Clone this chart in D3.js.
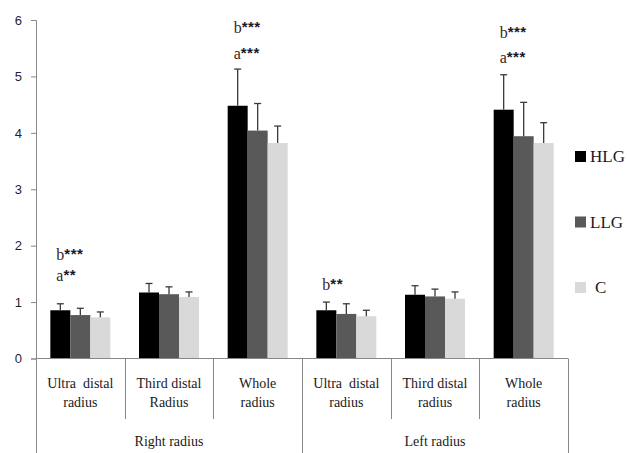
<!DOCTYPE html>
<html><head><meta charset="utf-8">
<script src="https://cdn.jsdelivr.net/npm/d3@7"></script>
<style>body{margin:0;background:#fff}svg{display:block}</style>
</head><body>
<svg id="c" width="627" height="453"></svg>
<script>
const categories = ["R-ultra","R-third","R-whole","L-ultra","L-third","L-whole"];
const categoryLabels = [["Ultra  distal","radius"],["Third distal","Radius"],["Whole","radius"],["Ultra  distal","radius"],["Third distal","radius"],["Whole","radius"]];
const groups = ["Right radius","Left radius"];
const series = ["HLG","LLG","C"];
const HLG = [0.855,1.17,4.48,0.855,1.13,4.41];
const LLG = [0.77,1.14,4.04,0.79,1.10,3.94];
const C   = [0.73,1.09,3.82,0.75,1.06,3.82];
const HLG_err = [0.115,0.16,0.65,0.145,0.16,0.62];
const LLG_err = [0.12,0.13,0.48,0.18,0.13,0.60];
const C_err   = [0.095,0.09,0.30,0.105,0.12,0.36];
const yTicks = [0,1,2,3,4,5,6];
// significance annotations: category index, text lines (bottom to top), value levels
const annotCat = [0,2,3,5];
const annotLetters = [["a","b"],["a","b"],["b"],["a","b"]];
const annotStars = [["**","***"],["***","***"],["**"],["***","***"]];
const annotLevels = [[1.37,1.75],[5.31,5.77],[1.21],[5.24,5.68]];

(function(){
const SERIF = "'Liberation Serif', 'Times New Roman', serif";
const SANS = "'Liberation Sans', Arial, sans-serif";
const colors = {HLG:"#000000",LLG:"#595959",C:"#d9d9d9"};
const vals = {HLG, LLG, C};
const errs = {HLG:HLG_err, LLG:LLG_err, C:C_err};

const svg = d3.select("#c");
const mLeft = 36, mRight = 568, mTop = 20, mBottom = 358.5;
const y = d3.scaleLinear().domain([0,6]).range([mBottom, mTop]);
const x0 = d3.scaleBand().domain(categories).range([mLeft,mRight]).padding(0);
const x1 = d3.scaleBand().domain(series).range([0,x0.bandwidth()]).paddingInner(0).paddingOuter(0.717);
const xg = d3.scaleBand().domain(groups).range([mLeft,mRight]).padding(0);
const axisColor = "#878787";

// y axis
const yAxis = svg.append("g").attr("transform",`translate(${mLeft},0)`)
  .call(d3.axisLeft(y).tickValues(yTicks).tickSize(5).tickPadding(9).tickFormat(d3.format("d")));
yAxis.select(".domain").attr("stroke",axisColor);
yAxis.selectAll(".tick line").attr("stroke",axisColor);
yAxis.selectAll("text").style("font-family",SANS).attr("font-size",13).attr("fill","#1f1f2f");

// bars
const cg = svg.append("g").selectAll("g").data(categories).join("g")
  .attr("transform",d=>`translate(${x0(d)},0)`);
series.forEach(s=>{
  cg.append("rect")
    .attr("x",x1(s)).attr("width",x1.bandwidth())
    .attr("y",(d,i)=>y(vals[s][i])).attr("height",(d,i)=>y(0)-y(vals[s][i]))
    .attr("fill",colors[s]);
});
// error bars
series.forEach(s=>{
  const cx = x1(s)+x1.bandwidth()/2;
  cg.append("line").attr("x1",cx).attr("x2",cx)
    .attr("y1",(d,i)=>y(vals[s][i])).attr("y2",(d,i)=>y(vals[s][i]+errs[s][i]))
    .attr("stroke","#3a3a3a").attr("stroke-width",1.3);
  cg.append("line").attr("x1",cx-3.5).attr("x2",cx+3.5)
    .attr("y1",(d,i)=>y(vals[s][i]+errs[s][i])).attr("y2",(d,i)=>y(vals[s][i]+errs[s][i]))
    .attr("stroke","#3a3a3a").attr("stroke-width",1.3);
});

// x axis line and separators
svg.append("line").attr("x1",mLeft).attr("x2",mRight).attr("y1",mBottom).attr("y2",mBottom).attr("stroke",axisColor);
categories.forEach((c,i)=>{
  const xx = Math.round(x0(c))+0.5;
  if(i%3!==0) svg.append("line").attr("x1",xx).attr("x2",xx).attr("y1",mBottom).attr("y2",419).attr("stroke",axisColor);
});
groups.forEach(g=>{
  [xg(g), xg(g)+xg.bandwidth()].forEach(v=>{
    const xx = Math.round(v)+0.5;
    svg.append("line").attr("x1",xx).attr("x2",xx).attr("y1",mBottom).attr("y2",453).attr("stroke",axisColor);
  });
});

// category labels
categories.forEach((c,i)=>{
  const t = svg.append("text").attr("x",x0(c)+x0.bandwidth()/2).attr("y",388)
    .attr("text-anchor","middle").style("font-family",SERIF)
    .attr("font-size",14).attr("fill","#1a1a1a").style("white-space","pre");
  categoryLabels[i].forEach((l,j)=>t.append("tspan").attr("x",x0(c)+x0.bandwidth()/2).attr("dy",j?19:0).text(l));
});
groups.forEach(g=>{
  svg.append("text").attr("x",xg(g)+xg.bandwidth()/2).attr("y",446).attr("text-anchor","middle")
    .style("font-family",SERIF).attr("font-size",14).attr("fill","#1a1a1a").text(g);
});

// annotations
annotCat.forEach((ci,k)=>{
  const cx = x0(categories[ci]) + x1("HLG") + x1.bandwidth()/2 - 4;
  annotLetters[k].forEach((L,j)=>{
    const t = svg.append("text").attr("x",cx).attr("y",y(annotLevels[k][j]))
      .attr("font-size",16);
    t.append("tspan").style("font-family",SERIF).attr("fill","#3a1e18").text(L);
    t.append("tspan").style("font-family",SANS).attr("font-size",15).attr("font-weight","bold").attr("dy",-1).attr("fill","#1a1a2a").attr("letter-spacing",0.5).text(annotStars[k][j]);
  });
});

// legend
const lg = svg.append("g").selectAll("g").data(series).join("g")
  .attr("transform",(d,i)=>`translate(575,${151+i*65.5})`);
lg.append("rect").attr("width",11).attr("height",11).attr("fill",d=>colors[d]);
lg.append("text").style("font-family",SERIF).attr("x",d=>d==="C"?20:15).attr("y",11)
  .attr("font-size",17).attr("fill","#1a1a2a").text(d=>d);
})();
</script>
</body></html>
